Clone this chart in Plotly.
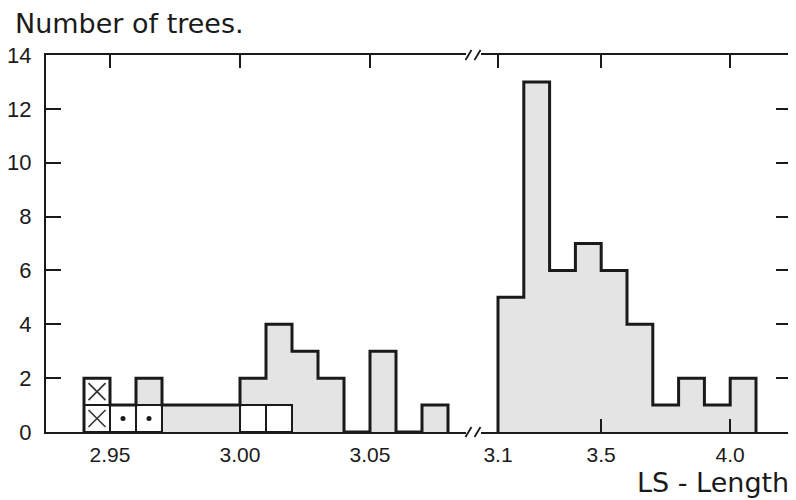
import plotly.graph_objects as go

# ---------------- data ----------------
# left segment: bins 0.01 wide (LS length 2.94 ... 3.08)
left_lo = [2.94, 2.95, 2.96, 2.97, 2.98, 2.99, 3.00, 3.01, 3.02, 3.03, 3.04, 3.05, 3.06, 3.07]
left_counts = [2, 1, 2, 1, 1, 1, 2, 4, 3, 2, 0, 3, 0, 1]
left_width = 0.01

# right segment: bins 0.1 wide (LS length 3.1 ... 4.1)
right_lo = [3.1, 3.2, 3.3, 3.4, 3.5, 3.6, 3.7, 3.8, 3.9, 4.0]
right_counts = [5, 13, 6, 7, 6, 4, 1, 2, 1, 2]
right_width = 0.1

# individually marked trees (bin lower edge, stack level)
crossed_lo = [2.94, 2.94]
crossed_level = [0, 1]
dotted_lo = [2.95, 2.96]
dotted_level = [0, 0]
open_lo = [3.00, 3.01]
open_level = [0, 0]

left_ticks = [2.95, 3.00, 3.05]
left_ticktext = ["2.95", "3.00", "3.05"]
right_ticks = [3.1, 3.5, 4.0]
right_ticktext = ["3.1", "3.5", "4.0"]
y_ticks = [0, 2, 4, 6, 8, 10, 12, 14]

y_title = "Number of trees."
x_title = "LS - Length"

# ---------------- style ----------------
GRAY = "#e4e4e4"
INK = "#1a1a1a"
FONT = "DejaVu Sans"
TICKFONT = "Liberation Sans"

OFF = 8  # page body margin offset
W, H = 796 - OFF, 500 - OFF


def P(v):
    return v - OFF


def step_xy(lo, counts, w):
    xs = [lo[0]] + list(lo) + [lo[-1] + w]
    ys = [0] + list(counts) + [0]
    return xs, ys


fig = go.Figure()

# gray fills
fig.add_trace(go.Bar(x=left_lo, y=left_counts, width=left_width, offset=0,
                     marker=dict(color=GRAY, line=dict(width=0)),
                     xaxis="x", yaxis="y", showlegend=False, hoverinfo="skip"))
fig.add_trace(go.Bar(x=right_lo, y=right_counts, width=right_width, offset=0,
                     marker=dict(color=GRAY, line=dict(width=0)),
                     xaxis="x2", yaxis="y2", showlegend=False, hoverinfo="skip"))

# individual boxes
box_lo = crossed_lo + dotted_lo + open_lo
box_level = crossed_level + dotted_level + open_level
fig.add_trace(go.Bar(x=box_lo, y=[1] * len(box_lo), base=box_level,
                     width=left_width, offset=0,
                     marker=dict(color="white", line=dict(color=INK, width=2)),
                     xaxis="x", yaxis="y", showlegend=False, hoverinfo="skip"))

# outlines
lx, ly = step_xy(left_lo, left_counts, left_width)
fig.add_trace(go.Scatter(x=lx, y=ly, mode="lines", line=dict(color=INK, width=3, shape="hv"),
                         cliponaxis=False, xaxis="x", yaxis="y", showlegend=False, hoverinfo="skip"))
rx, ry = step_xy(right_lo, right_counts, right_width)
fig.add_trace(go.Scatter(x=rx, y=ry, mode="lines", line=dict(color=INK, width=3, shape="hv"),
                         cliponaxis=False, xaxis="x2", yaxis="y2", showlegend=False, hoverinfo="skip"))

# markers inside boxes
fig.add_trace(go.Scatter(x=[v + left_width / 2 for v in crossed_lo],
                         y=[v + 0.5 for v in crossed_level], mode="markers",
                         marker=dict(symbol="x-thin-open", size=17, color="#333",
                                     line=dict(color="#333", width=1.6)),
                         xaxis="x", yaxis="y", showlegend=False, hoverinfo="skip"))
fig.add_trace(go.Scatter(x=[v + left_width / 2 for v in dotted_lo],
                         y=[v + 0.5 for v in dotted_level], mode="markers",
                         marker=dict(symbol="circle", size=5, color=INK),
                         xaxis="x", yaxis="y", showlegend=False, hoverinfo="skip"))

# ---------------- layout ----------------
X0, X1, Y0, Y1 = P(46), P(791), P(55), P(432)   # plot area in page pixels
L, R, T, B = X0, W - X1, Y0, H - Y1
pw = X1 - X0
ph = Y1 - Y0
brk_a, brk_b = P(466), P(481)  # pixel positions of the axis break
d1 = (brk_a - X0) / pw
d2 = (brk_b - X0) / pw

px_left = 2600.0   # pixels per unit on left segment
px_right = 258.0   # pixels per unit on right segment
a = 2.95 - (P(110) - X0) / px_left
b = a + (brk_a - X0) / px_left
c = 3.1 - (P(498) - brk_b) / px_right
d = c + (X1 - brk_b) / px_right

axis_common = dict(showline=True, linecolor=INK, linewidth=2, ticks="inside",
                   tickcolor=INK, tickwidth=1.5, showgrid=False, zeroline=False,
                   automargin=False)

xfont = dict(family=TICKFONT, size=21, color=INK)
yfont = dict(family=TICKFONT, size=22, color=INK)

fig.update_layout(
    width=W, height=H,
    margin=dict(l=L, r=R, t=T, b=B, autoexpand=False),
    paper_bgcolor="white", plot_bgcolor="white",
    barmode="overlay", bargap=0,
    xaxis=dict(domain=[0, d1], range=[a, b], tickvals=left_ticks, ticktext=left_ticktext,
               mirror="allticks", ticklen=13, anchor="y", ticklabelstandoff=3,
               tickfont=xfont, **axis_common),
    xaxis2=dict(domain=[d2, 1], range=[c, d], tickvals=right_ticks, ticktext=right_ticktext,
                mirror="allticks", ticklen=13, anchor="y2", ticklabelstandoff=3,
                tickfont=xfont, **axis_common),
    yaxis=dict(domain=[0, 1], range=[0, 14], tickvals=y_ticks, ticklen=15, anchor="x",
               ticklabelstandoff=8, tickfont=yfont, **axis_common),
    yaxis2=dict(domain=[0, 1], range=[0, 14], tickvals=y_ticks, ticklen=15, anchor="x2",
                side="right", showticklabels=False, **axis_common),
)


# break marks
def brk(py):
    shapes = []
    for cx in (P(468.5), P(477.5)):
        shapes.append(dict(type="line", xref="paper", yref="paper",
                           x0=(cx - 3 - X0) / pw, x1=(cx + 3 - X0) / pw,
                           y0=(Y1 - py - 5) / ph, y1=(Y1 - py + 5) / ph,
                           line=dict(color=INK, width=1.8)))
    return shapes


fig.update_layout(shapes=brk(Y0) + brk(Y1))

fig.add_annotation(text=y_title, xref="paper", yref="paper",
                   x=(P(13) - X0) / pw, y=(Y1 - P(23)) / ph, xanchor="left", yanchor="middle",
                   showarrow=False, font=dict(family=FONT, size=27, color=INK))
fig.add_annotation(text=x_title, xref="paper", yref="paper",
                   x=(P(791) - X0) / pw, y=(Y1 - P(482)) / ph, xanchor="right", yanchor="middle",
                   showarrow=False, font=dict(family=FONT, size=27, color=INK))

fig.write_html("out.html")
